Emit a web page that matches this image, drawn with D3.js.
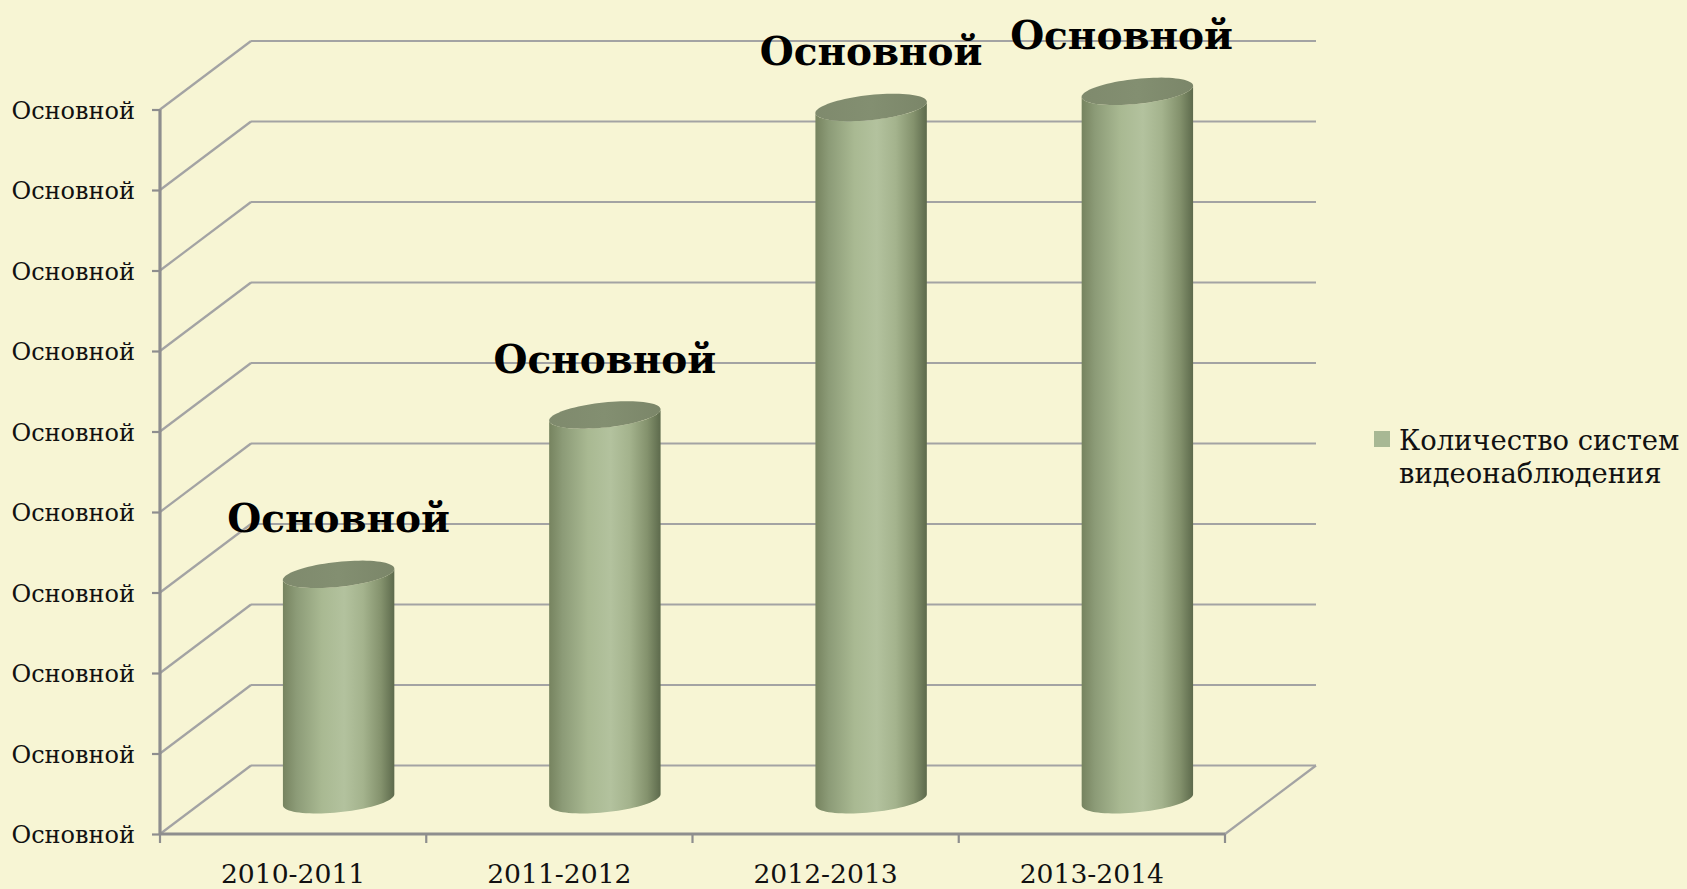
<!DOCTYPE html>
<html>
<head>
<meta charset="utf-8">
<script src="https://cdn.jsdelivr.net/npm/d3@7/dist/d3.min.js"></script>
<style>
  html, body { margin: 0; padding: 0; background: #f7f5d4; }
  svg { display: block; }
</style>
</head>
<body>
<svg id="chart" width="1687" height="889"></svg>
<script>
// ---- data ----
const categories = ["2010-2011", "2011-2012", "2012-2013", "2013-2014"];
const values = [2.80, 4.78, 8.60, 8.80];
const dataLabels = ["Основной", "Основной", "Основной", "Основной"];
const yTickValues = [0, 1, 2, 3, 4, 5, 6, 7, 8, 9];
const yTickLabels = ["Основной", "Основной", "Основной", "Основной", "Основной",
                     "Основной", "Основной", "Основной", "Основной", "Основной"];
const seriesName = ["Количество систем", "видеонаблюдения"];

// ---- layout ----
const W = 1687, H = 889;
const front = { left: 160, right: 1225, bottom: 834, top: 109.5 };
const depth = { dx: 91, dy: -68.5 };
const FONT = "'DejaVu Serif', 'Liberation Serif', serif";

const svg = d3.select("#chart");
svg.append("rect").attr("width", W).attr("height", H).attr("fill", "#f7f5d4");

const x = d3.scaleBand().domain(categories).range([front.left, front.right]).padding(0);
const y = d3.scaleLinear().domain([0, 9]).range([front.bottom, front.top]);

const gridColor = "#a3a3a3";
const axisColor = "#8e8e8e";

// back wall grid lines + side wall diagonals
const grid = svg.append("g");
yTickValues.forEach(v => {
  grid.append("line")
    .attr("x1", front.left + depth.dx).attr("x2", front.right + depth.dx)
    .attr("y1", y(v) + depth.dy).attr("y2", y(v) + depth.dy)
    .attr("stroke", gridColor).attr("stroke-width", 2.2);
  grid.append("line")
    .attr("x1", front.left).attr("y1", y(v))
    .attr("x2", front.left + depth.dx).attr("y2", y(v) + depth.dy)
    .attr("stroke", gridColor).attr("stroke-width", 2.2);
});
// floor right edge
grid.append("line")
  .attr("x1", front.right).attr("y1", y(0))
  .attr("x2", front.right + depth.dx).attr("y2", y(0) + depth.dy)
  .attr("stroke", gridColor).attr("stroke-width", 2.2);

// y axis
const yAxis = d3.axisLeft(y)
  .tickValues(yTickValues)
  .tickFormat((d, i) => yTickLabels[i])
  .tickSize(8).tickPadding(17);
const gy = svg.append("g").attr("transform", `translate(${front.left},0)`).call(yAxis);
gy.select(".domain").attr("stroke", axisColor).attr("stroke-width", 3.2)
  .attr("d", `M0,${front.top}V${front.bottom}`);
gy.selectAll(".tick line").attr("stroke", axisColor).attr("stroke-width", 2.2);
gy.selectAll(".tick text").attr("fill", "#111").attr("font-family", FONT)
  .attr("font-size", 24).attr("dy", "0.36em");

// x axis
svg.append("line")
  .attr("x1", front.left).attr("x2", front.right)
  .attr("y1", y(0)).attr("y2", y(0))
  .attr("stroke", axisColor).attr("stroke-width", 3.2);
const boundaries = categories.map(c => x(c)).concat([x(categories[categories.length - 1]) + x.bandwidth()]);
svg.append("g").selectAll("line").data(boundaries).join("line")
  .attr("x1", d => d).attr("x2", d => d)
  .attr("y1", y(0)).attr("y2", y(0) + 9)
  .attr("stroke", axisColor).attr("stroke-width", 2.2);
svg.append("g").selectAll("text").data(categories).join("text")
  .attr("x", d => x(d) + x.bandwidth() / 2)
  .attr("y", 883)
  .attr("text-anchor", "middle")
  .attr("font-family", FONT).attr("font-size", 26.6).attr("fill", "#111")
  .text(d => d);

// ---- cylinders ----
const defs = svg.append("defs");
const bodyGrad = defs.append("linearGradient").attr("id", "body")
  .attr("x1", "0").attr("x2", "1").attr("y1", "0").attr("y2", "0");
[[0, "#76835f"], [0.12, "#8c9b77"], [0.35, "#a9b992"], [0.55, "#b3c29e"],
 [0.72, "#a4b38d"], [0.88, "#84926d"], [1, "#5d6a4c"]]
  .forEach(([o, c]) => bodyGrad.append("stop").attr("offset", o).attr("stop-color", c));
const topGrad = defs.append("linearGradient").attr("id", "topface")
  .attr("x1", "0").attr("x2", "1").attr("y1", "0").attr("y2", "0");
[[0, "#7f8a6d"], [0.5, "#838f71"], [1, "#7b8669"]]
  .forEach(([o, c]) => topGrad.append("stop").attr("offset", o).attr("stop-color", c));

const a = 56, b = 12.5, theta = -6 * Math.PI / 180;
const tR = Math.atan(-b * Math.tan(theta) / a);
function ept(cx, cy, t) {
  return [cx + a * Math.cos(t) * Math.cos(theta) - b * Math.sin(t) * Math.sin(theta),
          cy + a * Math.cos(t) * Math.sin(theta) + b * Math.sin(t) * Math.cos(theta)];
}
function halfArc(cx, cy, t0, t1, n = 40) {
  return d3.range(n + 1).map(i => ept(cx, cy, t0 + (t1 - t0) * i / n));
}

const bars = svg.append("g");
values.forEach((v, i) => {
  const cx = x(categories[i]) + x.bandwidth() / 2 + depth.dx / 2;
  const by = y(0) + depth.dy / 2;
  const ty = y(v) + depth.dy / 2;
  const pts = halfArc(cx, by, tR, tR + Math.PI).concat(halfArc(cx, ty, tR + Math.PI, tR));
  bars.append("path")
    .attr("d", d3.line()(pts) + "Z")
    .attr("fill", "url(#body)");
  const full = halfArc(cx, ty, 0, 2 * Math.PI, 80);
  bars.append("path")
    .attr("d", d3.line()(full) + "Z")
    .attr("fill", "url(#topface)");
});

// ---- data labels ----
const labelRightLimit = front.right + 8;
const lg = svg.append("g");
values.forEach((v, i) => {
  const cx = x(categories[i]) + x.bandwidth() / 2 + depth.dx / 2;
  const ty = y(v) + depth.dy / 2;
  const t = lg.append("text")
    .attr("y", ty - 42)
    .attr("text-anchor", "middle")
    .attr("font-family", FONT).attr("font-weight", "bold")
    .attr("font-size", 39).attr("fill", "#000")
    .text(dataLabels[i]);
  const w = t.node().getComputedTextLength();
  const lx = Math.min(cx, labelRightLimit - w / 2);
  t.attr("x", lx);
});

// ---- legend ----
const leg = svg.append("g");
leg.append("rect").attr("x", 1374).attr("y", 431).attr("width", 16).attr("height", 16)
  .attr("fill", "#a8b894");
seriesName.forEach((s, i) => {
  leg.append("text")
    .attr("x", 1399).attr("y", 450 + i * 33)
    .attr("font-family", FONT).attr("font-size", 27.4).attr("fill", "#111")
    .text(s);
});
</script>
</body>
</html>
